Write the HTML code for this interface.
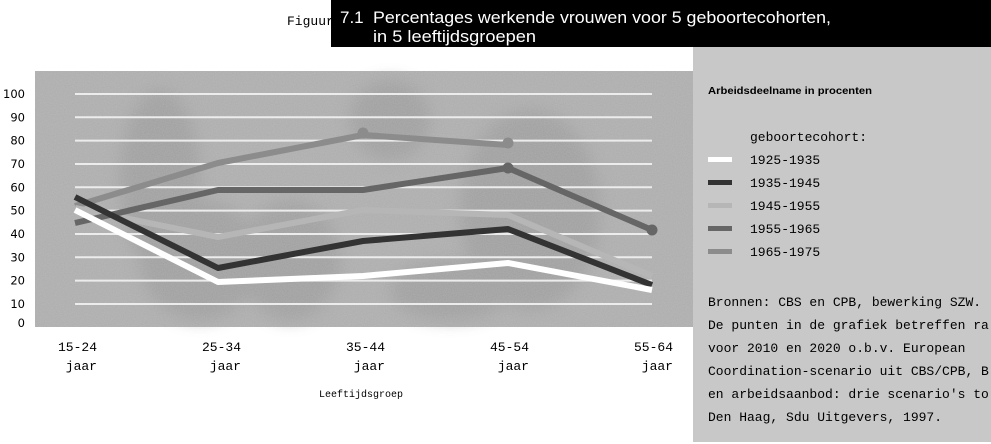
<!DOCTYPE html>
<html><head><meta charset="utf-8"><style>
html,body{margin:0;padding:0;background:#fff;width:991px;height:444px;overflow:hidden}
</style></head><body>
<svg width="991" height="444" viewBox="0 0 991 444" xmlns="http://www.w3.org/2000/svg">
<defs>
<filter id="n" x="0" y="0" width="100%" height="100%">
<feTurbulence type="fractalNoise" baseFrequency="0.9" numOctaves="1" seed="3"/>
<feColorMatrix type="matrix" values="0 0 0 0 0.7 0 0 0 0 0.7 0 0 0 0 0.7 0 0 0 0.3 0"/>
</filter>
<filter id="b"><feGaussianBlur stdDeviation="8"/></filter>
</defs>
<rect x="693" y="47" width="298" height="395" fill="#c8c8c8"/>
<rect x="35" y="71" width="658" height="256" fill="#ababab"/>
<g filter="url(#b)" fill="#9a9a9a" opacity="0.8">
<ellipse cx="160" cy="180" rx="40" ry="90"/>
<ellipse cx="200" cy="260" rx="60" ry="60"/>
<ellipse cx="290" cy="260" rx="50" ry="60"/>
<ellipse cx="390" cy="120" rx="40" ry="40"/>
<ellipse cx="530" cy="210" rx="70" ry="100"/>
<ellipse cx="450" cy="290" rx="60" ry="30"/>
</g>
<rect x="35" y="71" width="658" height="256" filter="url(#n)"/>
<g stroke="#ececec" stroke-width="2">
<line x1="75" x2="652" y1="94" y2="94"/><line x1="75" x2="652" y1="117.3" y2="117.3"/>
<line x1="75" x2="652" y1="140.6" y2="140.6"/><line x1="75" x2="652" y1="164" y2="164"/>
<line x1="75" x2="652" y1="187.3" y2="187.3"/><line x1="75" x2="652" y1="210.6" y2="210.6"/>
<line x1="75" x2="652" y1="234" y2="234"/><line x1="75" x2="652" y1="257.3" y2="257.3"/>
<line x1="75" x2="652" y1="280.6" y2="280.6"/><line x1="75" x2="652" y1="304" y2="304"/>
</g>
<g font-family="DejaVu Sans, sans-serif" font-size="11.5" fill="#000" text-anchor="end">
<text x="25" y="94" dy="4">100</text><text x="25" y="117.3" dy="4">90</text>
<text x="25" y="140.6" dy="4">80</text><text x="25" y="164" dy="4">70</text>
<text x="25" y="187.3" dy="4">60</text><text x="25" y="210.6" dy="4">50</text>
<text x="25" y="234" dy="4">40</text><text x="25" y="257.3" dy="4">30</text>
<text x="25" y="280.6" dy="4">20</text><text x="25" y="304" dy="4">10</text>
<text x="25" y="327" dy="0">0</text>
</g>
<g fill="none" stroke-width="6" stroke-linejoin="round">
<polyline stroke="#8c8c8c" points="75,206 218,163 363,135 508,145"/>
<polyline stroke="#b6b6b6" points="75,208 218,237 363,210 508,215 652,276"/>
<polyline stroke="#666" points="75,223 218,190 363,190 508,168 652,230"/>
<polyline stroke="#333" points="75,197 218,268 363,241 508,229 652,285"/>
<polyline stroke="#fff" points="75,210 218,282 363,276 508,263 652,290"/>
</g>
<circle cx="363" cy="133" r="5.5" fill="#8c8c8c"/><circle cx="508" cy="143" r="5.5" fill="#8c8c8c"/>
<circle cx="508" cy="168" r="5.5" fill="#666"/><circle cx="652" cy="230" r="5.5" fill="#666"/>
<g font-family="Liberation Mono, monospace" font-size="13" fill="#000" text-anchor="end">
<text x="97" y="351">15-24</text><text x="97" y="370">jaar</text>
<text x="241" y="351">25-34</text><text x="241" y="370">jaar</text>
<text x="385" y="351">35-44</text><text x="385" y="370">jaar</text>
<text x="529" y="351">45-54</text><text x="529" y="370">jaar</text>
<text x="673" y="351">55-64</text><text x="673" y="370">jaar</text>
</g>
<text x="361" y="397" font-family="Liberation Mono, monospace" font-size="10" text-anchor="middle">Leeftijdsgroep</text>
<text x="287" y="25" font-family="Liberation Mono, monospace" font-size="13">Figuur</text>
<rect x="331" y="0" width="660" height="47" fill="#000"/>
<g font-family="Liberation Sans, sans-serif" font-size="17" fill="#fff">
<text x="340" y="23">7.1</text>
<text x="373" y="23" textLength="458" lengthAdjust="spacingAndGlyphs">Percentages werkende vrouwen voor 5 geboortecohorten,</text>
<text x="373" y="42" textLength="163" lengthAdjust="spacingAndGlyphs">in 5 leeftijdsgroepen</text>
</g>
<text x="708" y="94" font-family="Liberation Sans, sans-serif" font-size="10" font-weight="bold" textLength="164" lengthAdjust="spacingAndGlyphs">Arbeidsdeelname in procenten</text>
<g font-family="Liberation Mono, monospace" font-size="13" fill="#000">
<text x="750" y="141">geboortecohort:</text>
<rect x="708" y="157" width="24" height="5" fill="#fff"/><text x="750" y="164">1925-1935</text>
<rect x="708" y="180" width="24" height="5" fill="#333"/><text x="750" y="187">1935-1945</text>
<rect x="708" y="203" width="24" height="5" fill="#b6b6b6"/><text x="750" y="210">1945-1955</text>
<rect x="708" y="226" width="24" height="5" fill="#666"/><text x="750" y="233">1955-1965</text>
<rect x="708" y="249" width="24" height="5" fill="#8c8c8c"/><text x="750" y="256">1965-1975</text>
<text x="708" y="306">Bronnen: CBS en CPB, bewerking SZW.</text>
<text x="708" y="329">De punten in de grafiek betreffen ra</text>
<text x="708" y="352">voor 2010 en 2020 o.b.v. European</text>
<text x="708" y="375">Coordination-scenario uit CBS/CPB, B</text>
<text x="708" y="398">en arbeidsaanbod: drie scenario's to</text>
<text x="708" y="421">Den Haag, Sdu Uitgevers, 1997.</text>
</g>
</svg>
</body></html>
